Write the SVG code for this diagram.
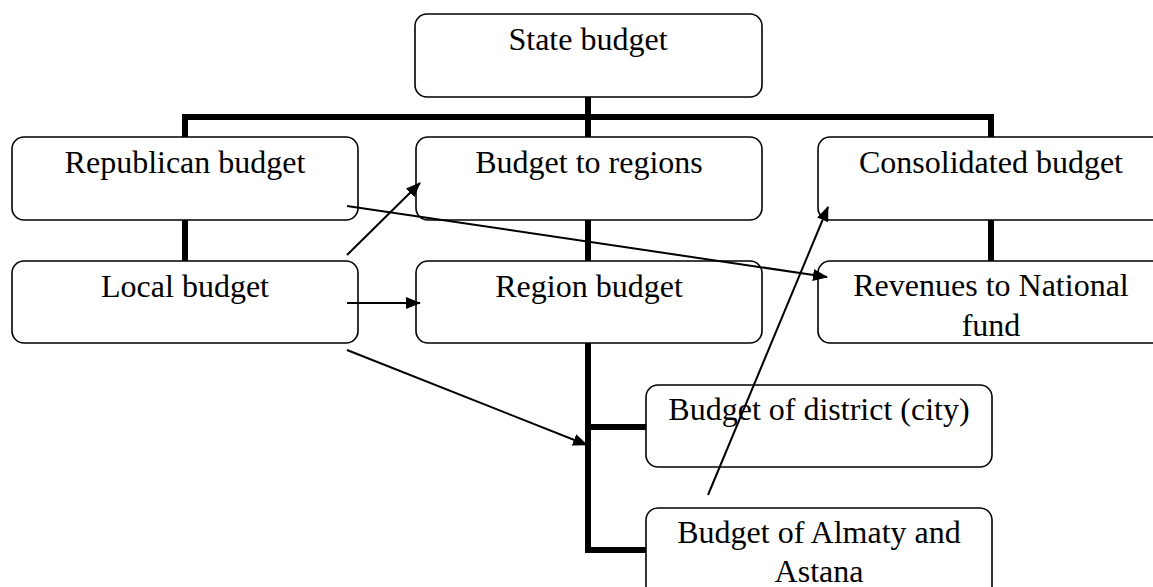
<svg xmlns="http://www.w3.org/2000/svg" width="1153" height="587" viewBox="0 0 1153 587">
<style>
.box{fill:#fff;stroke:#000;stroke-width:1.6}
.t{font-family:"Liberation Serif","Times New Roman",serif;font-size:32px;fill:#000;text-anchor:middle}
.thick{fill:none;stroke:#000;stroke-width:6;stroke-linecap:butt;stroke-linejoin:miter}
.arr{fill:none;stroke:#000;stroke-width:2;marker-end:url(#ah)}
</style>
<defs>
<marker id="ah" markerUnits="userSpaceOnUse" viewBox="0 0 15 12" refX="14" refY="6" markerWidth="15" markerHeight="12" orient="auto">
<path d="M0,0 L15,6 L0,12 Z" fill="#000"/>
</marker>
</defs>
<rect width="1153" height="587" fill="#fff"/>
<g id="tree">
<path class="thick" d="M588,97 V137 M185,137 V117 H991 V137 M185,220 V261 M588,220 V261 M991,220 V261 M588,343 V550 H646 M588,427 H646"/>
</g>
<g id="state"><rect class="box" x="415" y="14" width="347" height="83" rx="12"/><text class="t" x="588" y="50">State budget</text></g>
<g id="republican"><rect class="box" x="12" y="137" width="346" height="83" rx="12"/><text class="t" x="185" y="173">Republican budget</text></g>
<g id="regions"><rect class="box" x="416" y="137" width="346" height="83" rx="12"/><text class="t" x="589" y="173">Budget to regions</text></g>
<g id="consolidated"><rect class="box" x="818" y="137" width="350" height="83" rx="12"/><text class="t" x="991" y="173">Consolidated budget</text></g>
<g id="local"><rect class="box" x="12" y="261" width="346" height="82" rx="12"/><text class="t" x="185" y="297">Local budget</text></g>
<g id="region"><rect class="box" x="416" y="261" width="346" height="82" rx="12"/><text class="t" x="589" y="297">Region budget</text></g>
<g id="revenues"><rect class="box" x="818" y="261" width="350" height="82" rx="12"/><text class="t" x="991" y="296">Revenues to National</text><text class="t" x="991" y="336">fund</text></g>
<g id="district"><rect class="box" x="646" y="385" width="346" height="82" rx="12"/><text class="t" x="819" y="420">Budget of district (city)</text></g>
<g id="almaty"><rect class="box" x="646" y="508" width="346" height="100" rx="12"/><text class="t" x="819" y="543">Budget of Almaty and</text><text class="t" x="819" y="582">Astana</text></g>
<g id="connectors">
<line class="arr" x1="347" y1="206" x2="827" y2="277"/>
<line class="arr" x1="347" y1="255" x2="420" y2="183"/>
<line class="arr" x1="347" y1="303" x2="420" y2="303"/>
<line class="arr" x1="347" y1="350" x2="587" y2="445"/>
<line class="arr" x1="708" y1="495" x2="828" y2="207"/>
</g>
</svg>
